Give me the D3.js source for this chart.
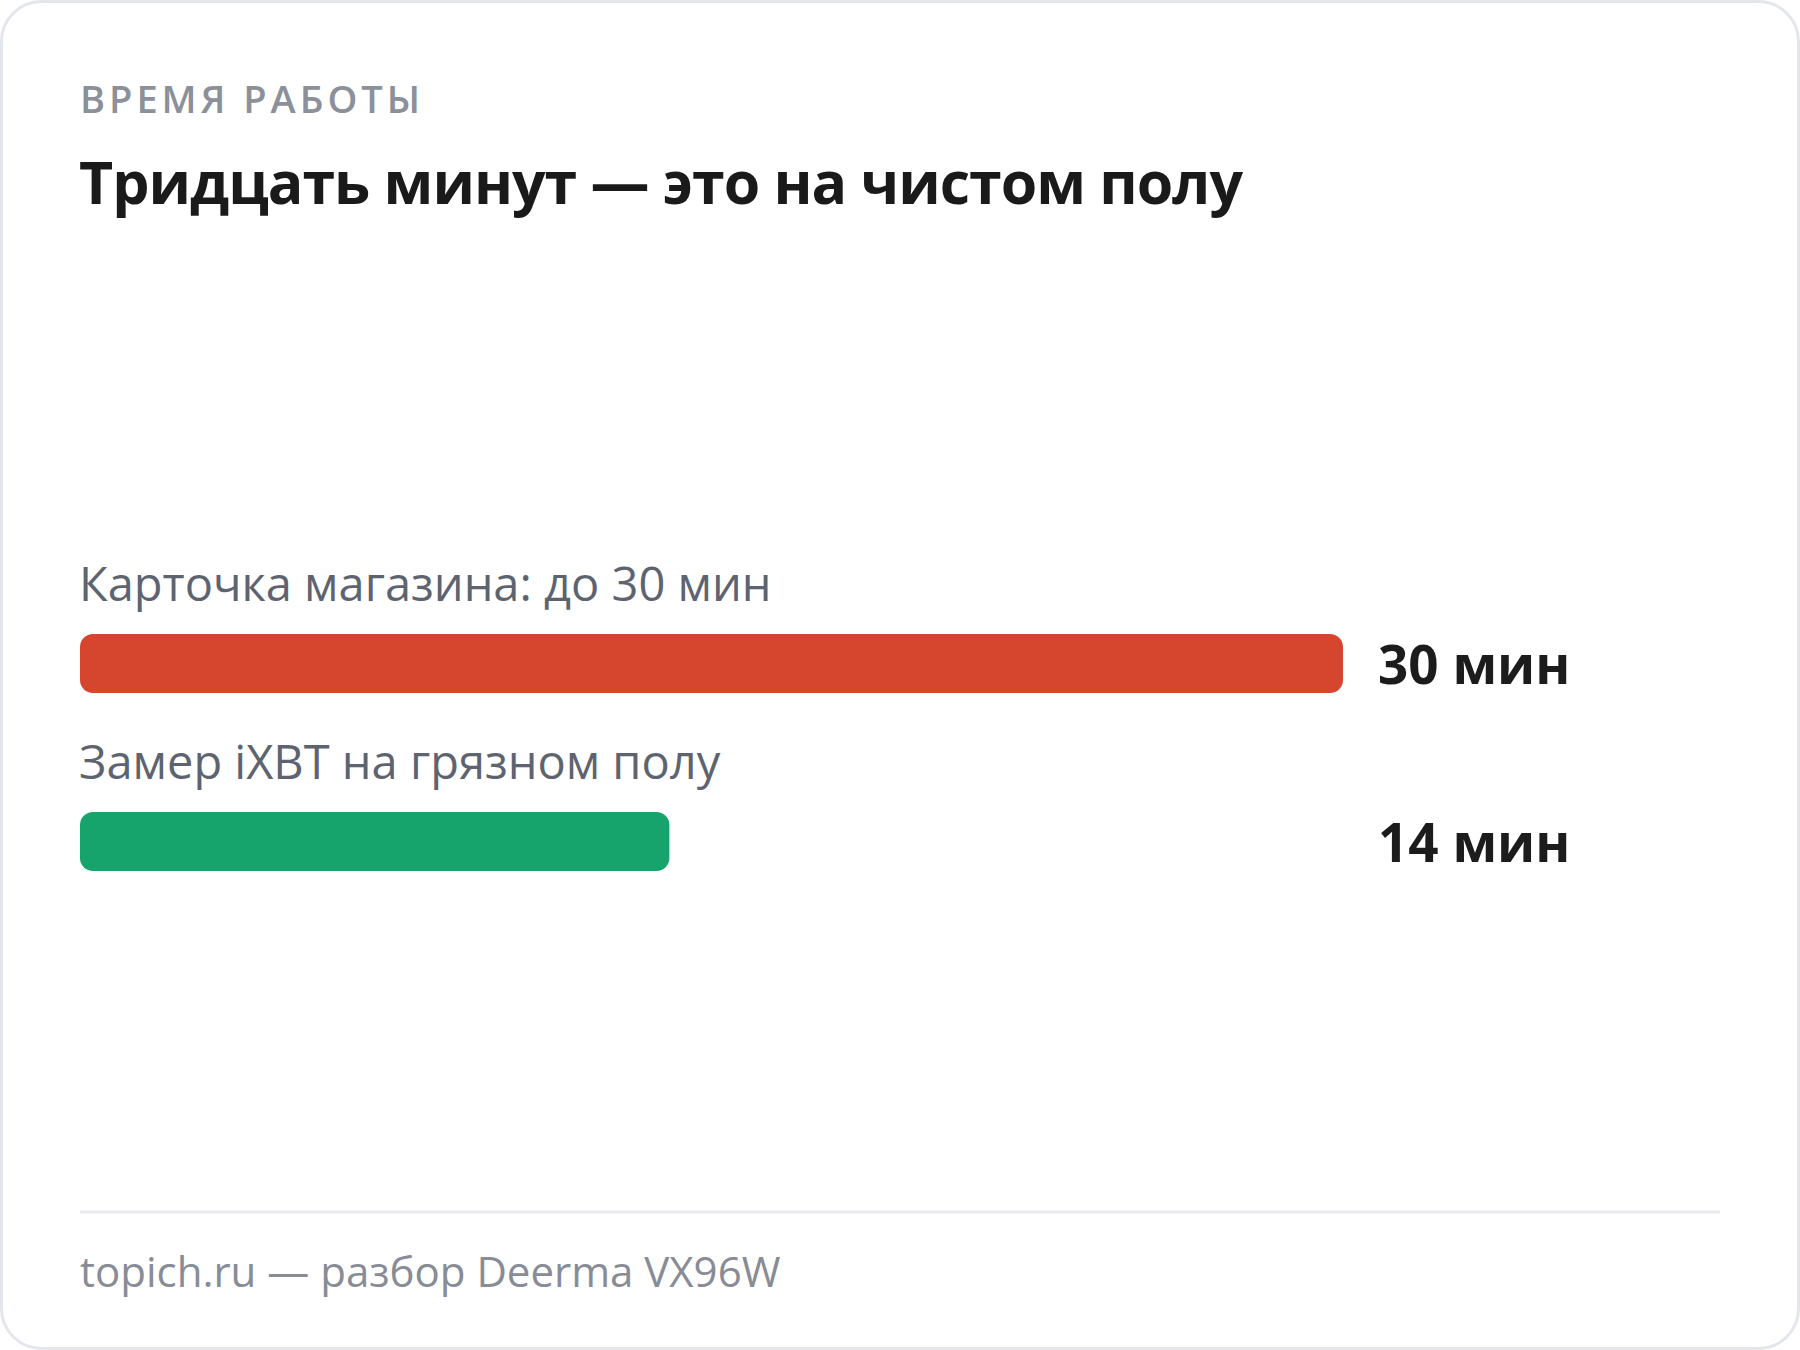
<!DOCTYPE html>
<html>
<head>
<meta charset="utf-8">
<script src="https://cdn.jsdelivr.net/npm/d3@7/dist/d3.min.js"></script>
<style>
  html, body { margin: 0; padding: 0; background: #ffffff; }
  svg { display: block; }
  text { font-family: "Open Sans", "Noto Sans", sans-serif; }
</style>
</head>
<body>
<svg id="chart" width="1800" height="1350"></svg>
<script>
// ---- data ----
const eyebrow = "ВРЕМЯ РАБОТЫ";
const title = "Тридцать минут — это на чистом полу";
const categories = ["Карточка магазина: до 30 мин", "Замер iXBT на грязном полу"];
const values = [30, 14];
const valueLabels = ["30 мин", "14 мин"];
const colors = ["#d6462f", "#17a46c"];
const footer = "topich.ru — разбор Deerma VX96W";
const maxValue = 30;

// ---- layout ----
const W = 1800, H = 1350;
const padL = 80, padR = 80;
const trackW = 1263;
const barH = 59;
const firstBarTop = 634;
const rowStep = 178;

const svg = d3.select("#chart");

// card
svg.append("rect")
  .attr("x", 1.5).attr("y", 1.5)
  .attr("width", W - 3).attr("height", H - 3)
  .attr("rx", 40).attr("ry", 40)
  .attr("fill", "#ffffff")
  .attr("stroke", "#e3e6eb")
  .attr("stroke-width", 3);

// header
svg.append("text")
  .attr("x", padL).attr("y", 113)
  .attr("fill", "#8b9099")
  .attr("font-size", 38)
  .attr("font-weight", 600)
  .attr("letter-spacing", "4px")
  .text(eyebrow);

svg.append("text")
  .attr("x", padL - 1).attr("y", 204)
  .attr("fill", "#1a1a1a")
  .attr("font-size", 59)
  .attr("font-weight", 700)
  .attr("letter-spacing", "-1px")
  .text(title);

// scales
const x = d3.scaleLinear().domain([0, maxValue]).range([0, trackW]);
const y = d3.scaleOrdinal()
  .domain(categories)
  .range(categories.map((c, i) => firstBarTop + i * rowStep));

const rows = svg.append("g").selectAll("g")
  .data(categories.map((c, i) => ({ cat: c, v: values[i], lab: valueLabels[i], col: colors[i] })))
  .join("g");

rows.append("text")
  .attr("x", padL - 1)
  .attr("y", d => y(d.cat) - 33)
  .attr("fill", "#5d6470")
  .attr("font-size", 47)
  .attr("font-weight", 400)
  .text(d => d.cat);

rows.append("rect")
  .attr("x", padL)
  .attr("y", d => y(d.cat))
  .attr("width", d => x(d.v))
  .attr("height", barH)
  .attr("rx", 13).attr("ry", 13)
  .attr("fill", d => d.col);

rows.append("text")
  .attr("x", padL + trackW + 35)
  .attr("y", d => y(d.cat) + barH / 2 + 20)
  .attr("fill", "#1c1c1c")
  .attr("font-size", 53)
  .attr("font-weight", 700)
  .text(d => d.lab);

// footer
svg.append("line")
  .attr("x1", padL).attr("x2", W - padR)
  .attr("y1", 1212).attr("y2", 1212)
  .attr("stroke", "#e9eaef")
  .attr("stroke-width", 3);

svg.append("text")
  .attr("x", padL).attr("y", 1287)
  .attr("fill", "#878c96")
  .attr("font-size", 42)
  .attr("font-weight", 400)
  .text(footer);
</script>
</body>
</html>
